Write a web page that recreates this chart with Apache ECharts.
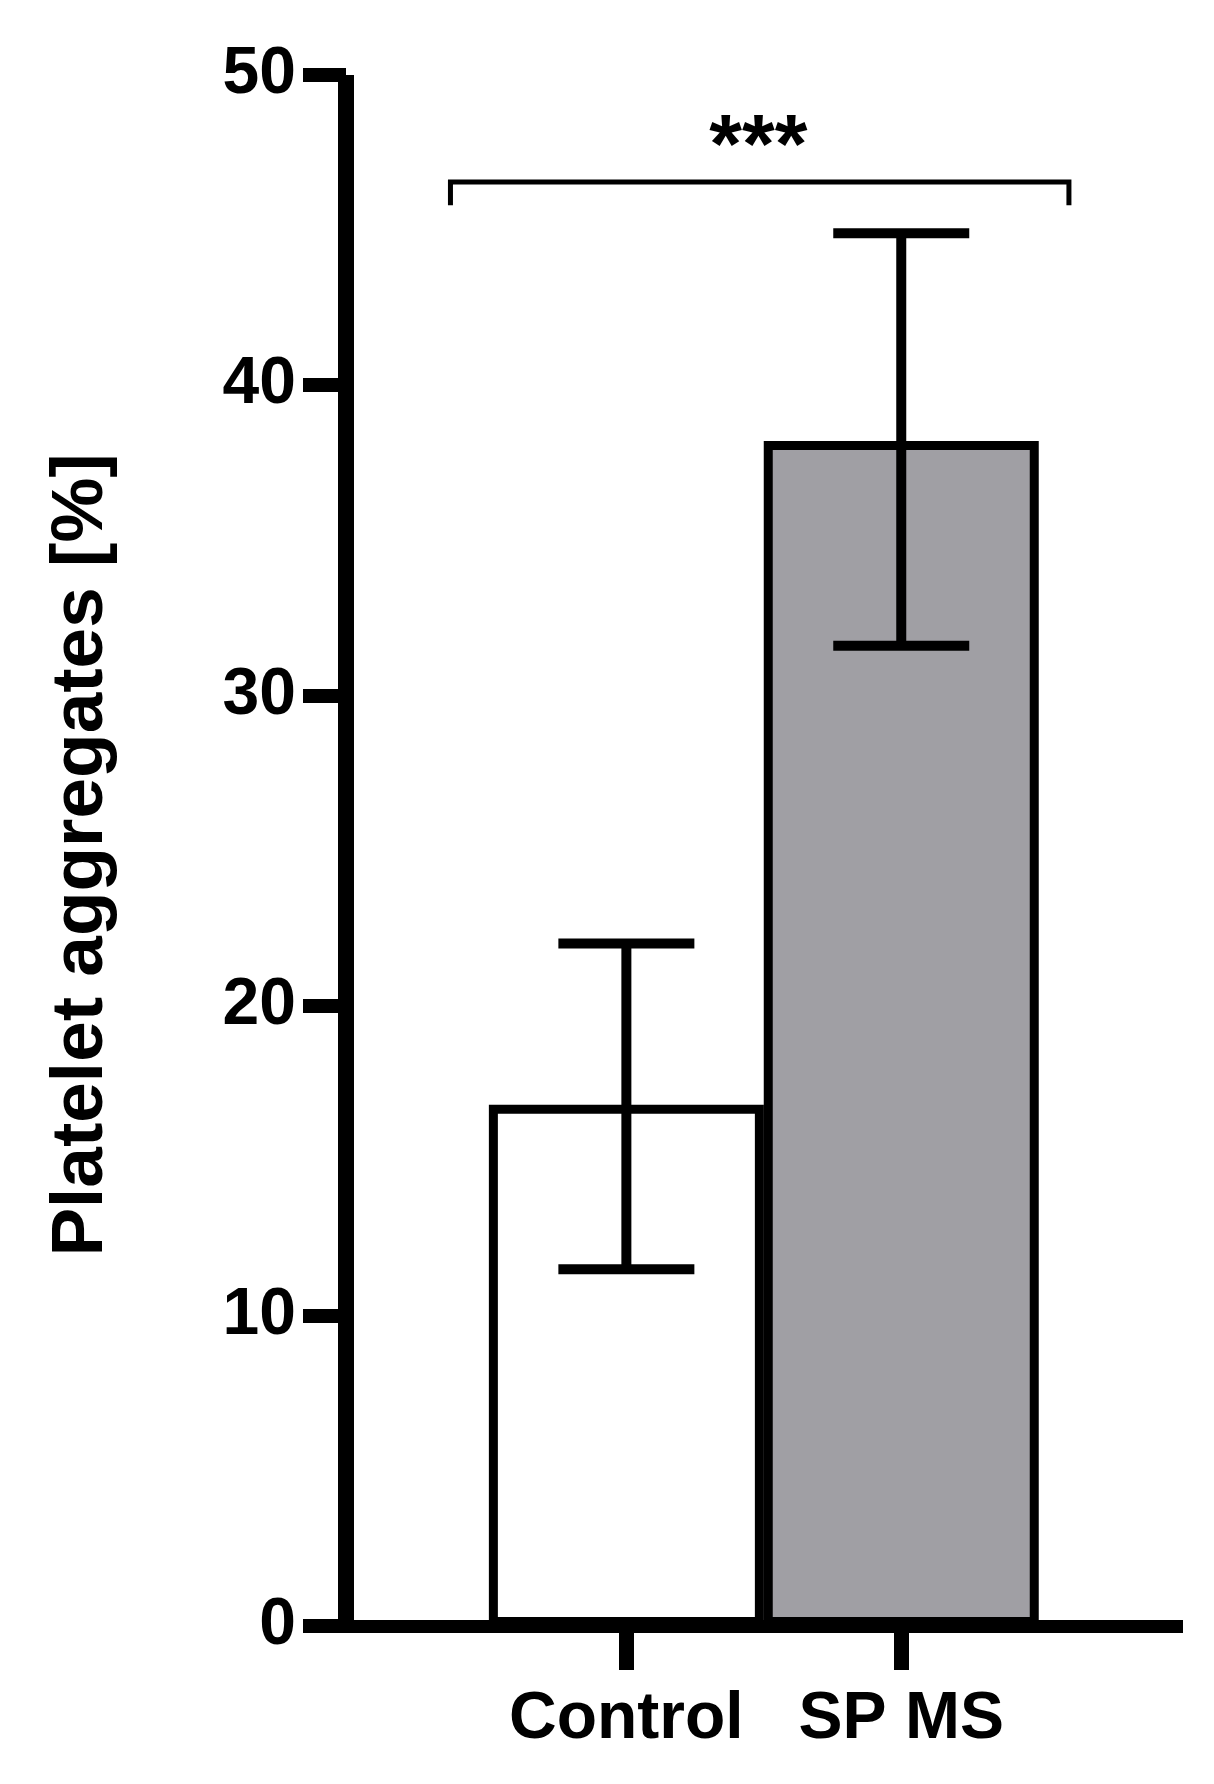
<!DOCTYPE html>
<html>
<head>
<meta charset="utf-8">
<script src="https://cdn.jsdelivr.net/npm/echarts@6/dist/echarts.min.js"></script>
<style>
html,body{margin:0;padding:0;background:#fff;}
#chart{width:1214px;height:1784px;}
</style>
</head>
<body>
<div id="chart"></div>
<script>
// ---- data ----
var categories = ['Control', 'SP MS'];
var positions = [1, 2];
var means = [16.8, 38.2];
var errLow = [11.5, 31.6];
var errHigh = [22.0, 44.9];
var yTicks = [0, 10, 20, 30, 40, 50];
var barColors = ['#ffffff', '#a09fa4'];
var yTitle = 'Platelet aggregates [%]';
var sigBracketX = [0.36, 2.61];
var sigBracketY = [45.8, 46.55];
var sigLabel = '***';
var sigLabelPos = [1.48, 47.6];

var FONT = "'Liberation Sans', Arial, Helvetica, sans-serif";

var barData = positions.map(function (p, i) {
  return { value: [p, means[i]], itemStyle: { color: barColors[i] } };
});
var errData = positions.map(function (p, i) { return [p, errLow[i], errHigh[i]]; });

var chart = echarts.init(document.getElementById('chart'), null, { renderer: 'canvas' });
chart.setOption({
  animation: false,
  backgroundColor: '#ffffff',
  grid: { left: 346, right: 31, top: 75, bottom: 158, containLabel: false, outerBoundsMode: 'none' },
  xAxis: {
    type: 'value',
    min: -0.02,
    max: 3.025,
    splitLine: { show: false },
    axisLine: { show: true, onZero: false, lineStyle: { color: '#000', width: 13, cap: 'butt' } },
    axisTick: { show: true, customValues: positions, length: 44, lineStyle: { color: '#000', width: 15, cap: 'butt' } },
    axisLabel: {
      customValues: positions,
      formatter: function (v) { var k = positions.indexOf(v); return k >= 0 ? categories[k] : ''; },
      color: '#000', fontSize: 66, fontWeight: 'bold', fontFamily: FONT, margin: 61
    }
  },
  yAxis: {
    type: 'value',
    min: yTicks[0],
    max: yTicks[yTicks.length - 1],
    interval: 10,
    splitLine: { show: false },
    axisLine: { show: true, onZero: false, lineStyle: { color: '#000', width: 16, cap: 'butt' } },
    axisTick: { show: true, length: 43, lineStyle: { color: '#000', width: 14, cap: 'butt' } },
    axisLabel: { color: '#000', fontSize: 66, fontWeight: 'bold', fontFamily: FONT, margin: 50 },
    name: yTitle,
    nameLocation: 'middle',
    nameGap: 228,
    nameTextStyle: { color: '#000', fontSize: 73, fontWeight: 'bold', fontFamily: FONT, padding: [0, 9, 0, 0] }
  },
  series: [
    {
      type: 'bar',
      data: barData,
      barWidth: 275,
      itemStyle: { borderColor: '#000', borderWidth: 9 },
      z: 2
    },
    {
      type: 'custom',
      data: errData,
      z: 3,
      renderItem: function (params, api) {
        var x = api.value(0);
        var lo = api.coord([x, api.value(1)]);
        var hi = api.coord([x, api.value(2)]);
        var hw = 68;
        var st = { stroke: '#000', lineWidth: 10, fill: null };
        return {
          type: 'group',
          children: [
            { type: 'line', shape: { x1: lo[0], y1: lo[1], x2: hi[0], y2: hi[1] }, style: st },
            { type: 'line', shape: { x1: hi[0] - hw, y1: hi[1], x2: hi[0] + hw, y2: hi[1] }, style: st },
            { type: 'line', shape: { x1: lo[0] - hw, y1: lo[1], x2: lo[0] + hw, y2: lo[1] }, style: st }
          ]
        };
      }
    },
    {
      type: 'custom',
      data: [[sigBracketX[0], sigBracketX[1], sigBracketY[0], sigBracketY[1]]],
      z: 3,
      renderItem: function (params, api) {
        var a = api.coord([api.value(0), api.value(2)]);
        var b = api.coord([api.value(0), api.value(3)]);
        var c = api.coord([api.value(1), api.value(3)]);
        var d = api.coord([api.value(1), api.value(2)]);
        return {
          type: 'polyline',
          shape: { points: [a, b, c, d] },
          style: { stroke: '#000', lineWidth: 5, fill: null, lineJoin: 'miter' }
        };
      }
    },
    {
      type: 'custom',
      data: [[sigLabelPos[0], sigLabelPos[1]]],
      z: 3,
      renderItem: function (params, api) {
        var p = api.coord([api.value(0), api.value(1)]);
        return {
          type: 'text',
          x: p[0], y: p[1],
          style: { text: sigLabel, fill: '#000', fontSize: 84, fontWeight: 'bold', fontFamily: FONT, align: 'center', verticalAlign: 'middle' }
        };
      }
    }
  ]
});
</script>
</body>
</html>
